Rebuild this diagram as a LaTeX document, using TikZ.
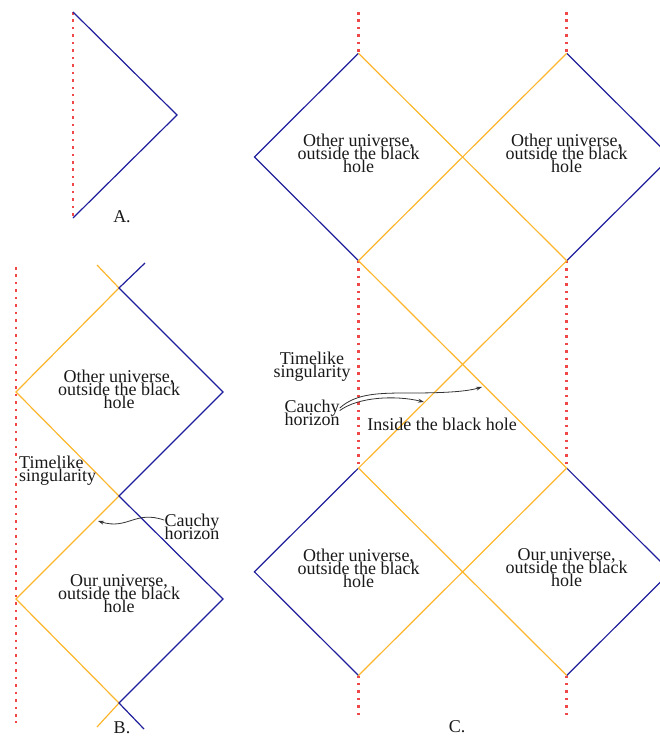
\documentclass[tikz,border=0pt]{standalone}
\usepackage{fontspec}
\setmainfont{Liberation Serif}
\usetikzlibrary{arrows.meta}
\definecolor{hblue}{HTML}{1F1F9C}
\definecolor{horange}{HTML}{FDB62B}
\definecolor{hred}{HTML}{F04848}
\newcommand\mylabfont{\fontsize{18}{13}\selectfont\lineskiplimit=-50pt\relax\lineskip=0pt\relax}
\begin{document}
\begin{tikzpicture}[x=1pt,y=-1pt,
  bl/.style={hblue,line width=1.2pt},
  orl/.style={horange,line width=1.2pt},
  sing/.style={hred,line width=2.5pt,dash pattern=on 2.5pt off 4.95pt},
  lab/.style={font=\mylabfont,align=center,inner sep=0pt,text=black!90},
  arr/.style={-{Stealth[length=6pt,width=4pt]},line width=0.8pt,black!80}]
\useasboundingbox (0,0) rectangle (659,736);
% ---------- A ----------
\coordinate (a1) at (73,12);
\coordinate (a2) at (177,115);
\coordinate (a3) at (73,218);
\draw[sing] (a1) -- (a3);
\draw[bl] (a1) -- (a2) -- (a3);
\node[lab] (labA) at (122,216.5) {A.};
% ---------- B ----------
\coordinate (bS1) at (16,267);
\coordinate (bS2) at (16,723);
\coordinate (bT) at (119,288);
\coordinate (bL1) at (16,392);
\coordinate (bR1) at (223,392);
\coordinate (bM) at (119,496);
\coordinate (bL2) at (16,599);
\coordinate (bR2) at (223,599);
\coordinate (bB) at (119,703);
\coordinate (bTo) at (97,265);
\coordinate (bTb) at (145,263);
\coordinate (bBo) at (97,727);
\coordinate (bBb) at (144,729);
\draw[sing] (bS1) -- (bS2);
\draw[orl] (bTo) -- (bT) -- (bL1) -- (bM) -- (bL2) -- (bB) -- (bBo);
\draw[bl] (bTb) -- (bT) -- (bR1) -- (bM) -- (bR2) -- (bB) -- (bBb);
\node[lab] (otherB) at (119,389) {Other universe,\\outside the black\\hole};
\node[lab] (ourB) at (119,594) {Our universe,\\outside the black\\hole};
\node[lab,align=left,anchor=west] (tlB) at (19,471) {Timelike\\singularity};
\node[lab] (cauB) at (192,527) {Cauchy\\horizon};
\coordinate (hB) at (98,521);
\draw[arr] (cauB.166) .. controls (135,510) and (128,530) .. (hB);
\node[lab] (labB) at (122,727.3) {B.};
% ---------- C ----------
\foreach \n/\x in {0/254.4,1/358.5,2/462.6,3/566.7,4/670.8}{
  \foreach \m/\y in {0/53.3,1/157,2/260.7,3/364.4,4/468.1,5/571.8,6/675.5}{
    \coordinate (c\n\m) at (\x,\y);
  }
}
\coordinate (cTopL) at (358.5,12);
\coordinate (cTopR) at (566.7,12);
\coordinate (cBotL) at (358.5,720);
\coordinate (cBotR) at (566.7,720);
\draw[sing] (cTopL) -- (c10);
\draw[sing] (cTopR) -- (c30);
\draw[sing] (c12) -- (c14);
\draw[sing] (c32) -- (c34);
\draw[sing] (c16) -- (cBotL);
\draw[sing] (c36) -- (cBotR);
\draw[bl] (c10) -- (c01) -- (c12);
\draw[bl] (c30) -- (c41) -- (c32);
\draw[bl] (c14) -- (c05) -- (c16);
\draw[bl] (c34) -- (c45) -- (c36);
\draw[orl] (c10) -- (c32) -- (c14) -- (c36);
\draw[orl] (c30) -- (c12) -- (c34) -- (c16);
\node[lab] (otherC1) at (358.5,153) {Other universe,\\outside the black\\hole};
\node[lab] (otherC2) at (566.7,153) {Other universe,\\outside the black\\hole};
\node[lab] (otherC3) at (358.5,568) {Other universe,\\outside the black\\hole};
\node[lab] (ourC) at (566.7,568) {Our universe,\\outside the black\\hole};
\node[lab] (tlC) at (312,367) {Timelike\\singularity};
\node[lab] (cauC) at (312,413) {Cauchy\\horizon};
\node[lab] (inside) at (442,424.5) {Inside the black hole};
\coordinate (hC1) at (424,402);
\coordinate (hC2) at (482,387);
\draw[arr] (cauC.5) .. controls (358,397) and (395,395) .. (hC1);
\draw[arr] (cauC.10) .. controls (356,393) and (380,393) .. (410,393) .. controls (440,393) and (465,392) .. (hC2);
\node[lab] (labC) at (457,727) {C.};
\end{tikzpicture}
\end{document}
